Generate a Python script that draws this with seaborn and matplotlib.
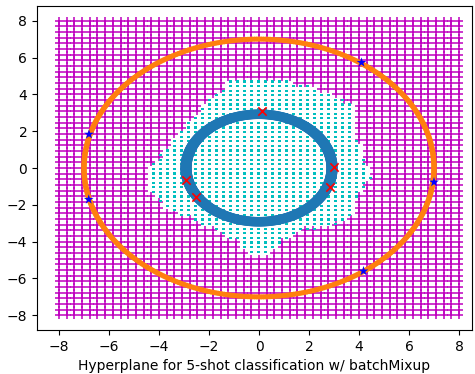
import numpy as np
import pandas as pd
import matplotlib
matplotlib.use("Agg")
import matplotlib.pyplot as plt
import seaborn as sns
from matplotlib.path import Path

# ---- data ----
grid_ticks = np.linspace(-8, 8, 53)          # background grid coordinates
inner_band = [2.8, 2.92, 3.04]
outer_band = [6.97, 7.03]
ring_angles = np.linspace(0, 2 * np.pi, 500, endpoint=False)

# outline of the cyan region (x, y)
blob_x = [-1.2, -1.75, -2.3, -2.9, -3.7, -4.5, -4.4, -3.5, -2.5, -1.7, -0.9, -0.3,
          0.3, 0.9, 1.7, 2.9, 3.7, 3.9, 4.5, 4.3, 3.9, 3.9, 3.3, 2.1, 1.3]
blob_y = [4.7, 4.0, 3.3, 2.4, 1.1, -0.2, -1.3, -2.4, -2.9, -3.4, -4.0, -4.65,
          -4.65, -4.0, -3.4, -3.2, -2.6, -1.6, -0.5, 0.3, 1.6, 3.2, 3.75, 4.4, 4.7]
cyan_x_ticks = np.arange(-4.5, 4.51, 0.28)
cyan_y_ticks = np.arange(-4.8, 4.81, 0.25)

# support samples (red x on inner circle, blue stars on outer circle)
x_marks_x = [0.1, 3.0, 2.83, -2.94, -2.51]
x_marks_y = [3.07, 0.08, -1.04, -0.66, -1.57]
star_x = [4.1, 7.0, 4.18, -6.8, -6.81]
star_y = [5.73, -0.77, -5.6, 1.83, -1.71]

# ---- build frames ----
blob = Path(np.column_stack([blob_x, blob_y]))
gx, gy = np.meshgrid(grid_ticks, grid_ticks)
gpts = np.column_stack([gx.ravel(), gy.ravel()])
outside = ~blob.contains_points(gpts)
grid_df = pd.DataFrame({"x": gpts[outside, 0], "y": gpts[outside, 1]})

cx, cy = np.meshgrid(cyan_x_ticks, cyan_y_ticks)
cpts = np.column_stack([cx.ravel(), cy.ravel()])
inside = blob.contains_points(cpts)
cyan_df = pd.DataFrame({"x": cpts[inside, 0], "y": cpts[inside, 1]})

inner_df = pd.DataFrame({
    "x": np.concatenate([r * np.cos(ring_angles) for r in inner_band]),
    "y": np.concatenate([r * np.sin(ring_angles) for r in inner_band]),
})
outer_df = pd.DataFrame({
    "x": np.concatenate([r * np.cos(ring_angles) for r in outer_band]),
    "y": np.concatenate([r * np.sin(ring_angles) for r in outer_band]),
})

# ---- plot ----
fig = plt.figure(figsize=(4.75, 3.74), dpi=100)
ax = fig.add_axes([37 / 475, 44 / 374, 435 / 475, 324 / 374])

sns.scatterplot(data=grid_df, x="x", y="y", marker="+", color="m",
                edgecolor="m", s=30, linewidth=1.1, ax=ax, zorder=1)
sns.scatterplot(data=cyan_df, x="x", y="y", marker="s", color="c",
                edgecolor="none", s=2.5, linewidth=0, ax=ax, zorder=2)
sns.scatterplot(data=inner_df, x="x", y="y", marker="o", color="#1f77b4",
                edgecolor="none", s=14, linewidth=0, ax=ax, zorder=3)
sns.scatterplot(data=outer_df, x="x", y="y", marker="o", color="#ff7f0e",
                edgecolor="none", s=9, linewidth=0, ax=ax, zorder=3)
sns.scatterplot(x=x_marks_x, y=x_marks_y, marker="x", color="red",
                edgecolor="red", s=36, linewidth=1.2, ax=ax, zorder=4)
sns.scatterplot(x=star_x, y=star_y, marker="*", color="blue",
                edgecolor="none", s=55, linewidth=0, ax=ax, zorder=4)

ax.set_xlim(-8.88, 8.52)
ax.set_ylim(-8.8, 8.8)
ax.set_xticks(np.arange(-8, 9, 2))
ax.set_yticks(np.arange(-8, 9, 2))
ax.set_xlabel("Hyperplane for 5-shot classification w/ batchMixup")
ax.set_ylabel("")

fig.savefig("out.png", dpi=100)
